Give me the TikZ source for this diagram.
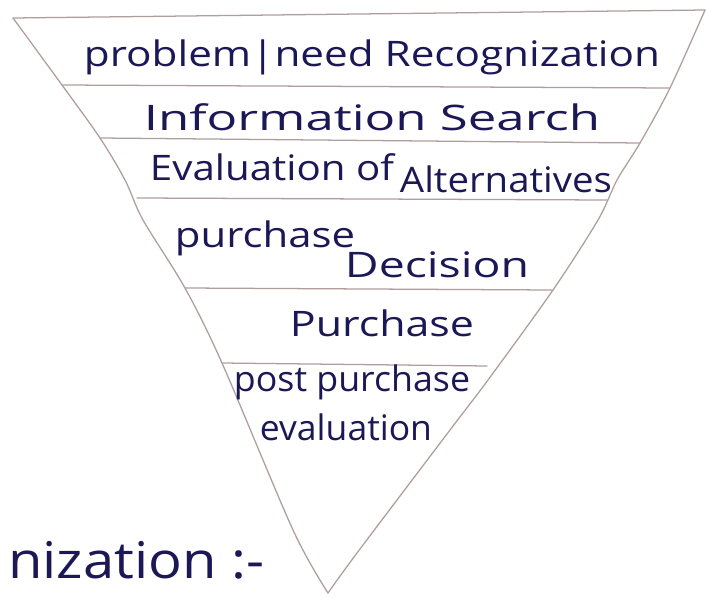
\documentclass[tikz,border=0pt]{standalone}
\usepackage{fontspec}
\setmainfont{Open Sans}
\usepackage{graphicx}
\definecolor{ink}{RGB}{28,24,86}
\definecolor{pencil}{RGB}{176,158,158}
\tikzset{
  rule/.style={
    draw=pencil,
    line width=0.9pt,
    line cap=round,
  },
  stage/.style={
    text=ink,
    inner sep=0pt,
    anchor=base,
    font=\fontsize{25}{27}\selectfont
  }
}
% stretch a handwritten line to its width, height kept
\newcommand{\handw}[2]{\resizebox{#1}{\height}{#2}}

\begin{document}
\begin{tikzpicture}[x=0.025cm,y=-0.025cm]
        \fill[white] (0,0) rectangle (706,599);
        \useasboundingbox (0,0) rectangle (706,599);
        \coordinate (tl) at (13,18);
        \coordinate (tr) at (705,10);
        \coordinate (apex) at (328,593);
        % funnel outline
        \draw[rule] (tl)--(tr);
        \draw[rule] plot[smooth,tension=0.5] coordinates {(tl) (62,85) (100,138) (125,180) (143,220) (185,288) (222,363) (293,530) (apex)};
        \draw[rule] plot[smooth,tension=0.5] coordinates {(tr) (670,88) (640,143) (617,180) (598,220) (553,290) (488,380) (450,430) (357,553) (apex)};
        % bands
        \draw[rule] (62,85)--(670,88);
        \draw[rule] (100,138)--(640,143);
        \draw[rule] (137,198)--(607,200);
        \draw[rule] (185,288)--(552,290);
        \draw[rule] (222,363)--(487,366);
        % stages
        \node[stage] (need) at (372,66) {\handw{14.4cm}{problem|need Recognization}};
        \node[stage] (search) at (372,130) {\handw{11.4cm}{Information Search}};
        \node[stage] (evalof) at (272,180) {\handw{6.1cm}{Evaluation of}};
        \node[stage] (alt) at (506,192) {\handw{5.3cm}{Alternatives}};
        \node[stage] (purchased) at (265,247) {\handw{4.5cm}{purchase}};
        \node[stage] (decision) at (437,277) {\handw{4.6cm}{Decision}};
        \node[stage] (purchase) at (382,336) {\handw{4.6cm}{Purchase}};
        \node[stage] (post) at (352,391) {\handw{5.9cm}{post purchase}};
        \node[stage] (postev) at (346,440) {\handw{4.3cm}{evaluation}};
        \node[stage,anchor=base west,font=\fontsize{36}{38}\selectfont] (cut) at (8,578) {\handw{6.4cm}{nization :-}};
    \end{tikzpicture}
\end{document}
